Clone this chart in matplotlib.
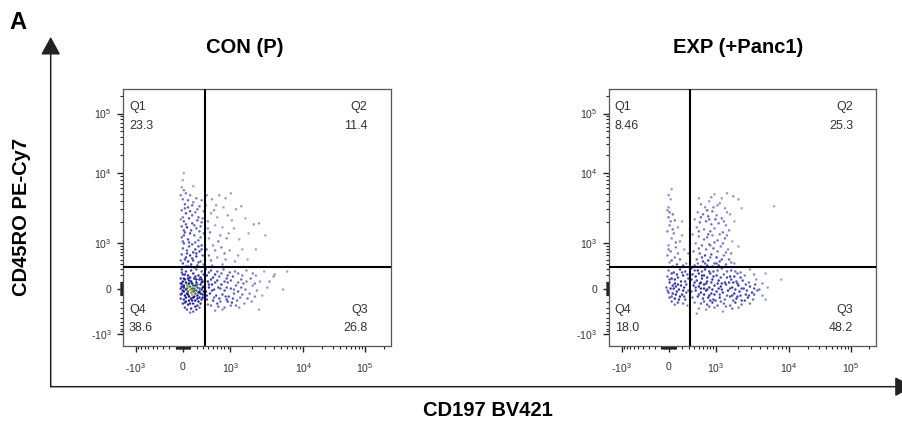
import numpy as np
import matplotlib
matplotlib.use('Agg')
import matplotlib.pyplot as plt
from matplotlib.colors import LinearSegmentedColormap
from matplotlib.patches import FancyArrowPatch

plt.rcParams['font.family'] = ['Liberation Sans', 'DejaVu Sans']
plt.rcParams['mathtext.fontset'] = 'custom'
plt.rcParams['mathtext.rm'] = 'Liberation Sans'
plt.rcParams['mathtext.it'] = 'Liberation Sans:italic'
plt.rcParams['mathtext.bf'] = 'Liberation Sans:bold'

# events in scaled display channels (0-256, biexponential)
con_q1 = [(58,172),(57,165),(67,159),(56,158),(60,152),(64,150),(57,146),(70,147),(75,145),(59,141),
          (62,138),(66,140),(73,139),(56,135),(60,132),(69,133),(77,134),(57,128),(63,127),(72,128),
          (58,124),(66,122),(75,123),(56,119),(61,118),(70,117),(74,119),(59,113),(64,112),(68,110),
          (77,112),(56,108),(62,106),(72,105),(58,102),(66,101),(75,100),(57,97),(61,95),(69,96),
          (73,94),(56,91),(64,90),(70,89),(76,90),(59,86),(62,84),(67,85),(74,84),(57,82),
          (65,81),(71,80),(77,81),(60,79),(68,78),(63,99),(71,125),(58,110),(66,130),(74,108),
          (60,88),(69,103),(55,150),(58,155),(62,145),(67,143),(71,136),(55,126),(60,121),(65,115),
          (73,114),(57,104),(63,103),(67,93),(72,99),(55,85),(61,92),(66,87),(75,96),(58,115),
          (62,79),(72,83),(76,127),(64,134),(59,137),(68,120),(70,92)]
con_q2 = [(80,150),(85,146),(92,150),(98,147),(103,152),(89,140),(96,138),(108,136),(113,139),(84,132),
          (90,128),(100,130),(117,127),(81,124),(88,120),(95,118),(106,117),(125,121),(130,122),(83,113),
          (93,110),(99,107),(111,106),(120,112),(86,100),(94,98),(102,95),(114,96),(82,90),(90,88),
          (98,86),(107,84),(119,86),(85,80),(95,81),(80,96),(82,107),(79,140),(81,117),(87,135),
          (104,125),(91,104),(97,92),(110,90),(84,85),(101,112),(88,95),(127,96),(136,110)]
con_q4 = [(56,76),(60,74),(65,75),(70,76),(75,74),(57,71),(62,70),(67,72),(72,70),(77,71),
          (55,67),(59,66),(63,65),(68,67),(73,66),(76,64),(56,62),(58,60),(61,61),(64,59),
          (66,62),(69,60),(71,58),(74,61),(77,59),(55,57),(57,55),(60,56),(62,54),(65,56),
          (67,54),(70,55),(72,53),(75,56),(77,54),(56,52),(59,50),(61,52),(63,49),(66,51),
          (68,49),(71,50),(73,48),(76,51),(55,47),(58,46),(60,44),(63,45),(65,47),(69,45),
          (72,44),(75,46),(57,42),(62,41),(67,42),(71,40),(74,42),(59,38),(65,37),(70,36),
          (64,33),(58,58),(68,57),(63,62),(60,48),(70,63),(66,45),(74,52),(57,64),(61,57),
          (69,52),(73,57),(62,67),(67,60),(65,53),(56,73),(59,71),(64,68),(69,69),(74,68),
          (55,62),(60,63),(65,64),(70,66),(75,63),(56,59),(62,59),(66,57),(71,61),(76,58),
          (58,54),(64,56),(68,55),(73,54),(55,51),(62,51),(67,48),(71,47),(76,48),(59,43),
          (64,42),(69,39),(73,38),(61,36),(67,34),(75,66),(58,67)]
con_q3 = [(79,76),(84,75),(90,74),(96,76),(102,73),(110,72),(118,75),(127,70),(135,74),(145,71),
          (157,74),(80,70),(86,68),(92,69),(99,67),(105,69),(113,66),(122,67),(131,64),(144,69),
          (81,64),(88,63),(94,61),(100,63),(108,60),(115,62),(124,60),(138,58),(153,56),(82,58),
          (87,56),(91,58),(97,55),(103,57),(110,54),(117,56),(121,52),(128,55),(83,52),(89,50),
          (95,51),(101,49),(106,52),(112,48),(119,47),(126,49),(133,50),(80,46),(86,45),(93,44),
          (99,46),(104,43),(109,45),(116,42),(123,44),(84,40),(91,39),(97,38),(103,40),(111,38),
          (130,36),(88,35),(79,54),(81,41),(85,61),(140,64),(82,73),(88,71),(94,72),(100,70),
          (107,74),(114,70),(124,72),(84,66),(90,65),(97,64),(103,65),(110,63),(118,64),(126,62),
          (85,55),(93,57),(99,58),(106,56),(113,58),(87,48),(92,47),(98,49),(105,47),(114,51),
          (90,42),(100,44),(108,40),(95,36),(82,61),(80,50)]

exp_q1 = [(60,156),(57,150),(59,146),(56,135),(58,133),(61,131),(57,128),(63,125),(70,124),(58,120),
          (66,118),(56,114),(62,112),(60,107),(68,104),(57,100),(64,98),(59,94),(72,96),(56,90),
          (63,88),(68,86),(58,83),(65,81),(74,82),(61,79),(76,92),(70,110),(57,138),(59,124),
          (61,116),(64,103),(57,96),(66,92),(60,85),(71,80)]
exp_q2 = [(101,151),(119,149),(108,147),(113,152),(124,146),(96,144),(88,141),(92,138),(104,140),(111,137),
          (99,134),(85,133),(90,131),(95,129),(103,130),(108,127),(116,131),(82,126),(87,123),(93,124),
          (98,121),(105,122),(112,120),(84,118),(91,116),(97,114),(101,117),(109,113),(115,115),(80,111),
          (86,109),(94,108),(99,110),(104,105),(111,107),(118,104),(83,102),(89,100),(96,101),(100,97),
          (107,99),(114,96),(81,94),(87,92),(92,90),(98,91),(103,88),(110,90),(117,92),(84,86),
          (90,84),(95,85),(101,82),(106,84),(112,81),(82,80),(88,79),(94,80),(99,79),(105,80),
          (120,82),(124,99),(158,139),(127,137),(120,124),(86,147),(97,100),(93,96),(98,148),(106,142),
          (94,135),(100,138),(113,133),(88,128),(96,126),(102,126),(110,124),(86,114),(95,111),(106,111),
          (113,110),(91,106),(101,103),(109,102),(86,97),(104,94),(112,93),(89,88),(97,88),(108,86),
          (115,86),(85,82),(103,82),(92,82),(117,83)]
exp_q4 = [(57,75),(62,73),(68,76),(73,74),(56,69),(60,67),(66,68),(71,70),(76,67),(58,63),
          (63,62),(69,64),(74,61),(55,58),(59,57),(64,59),(67,56),(72,58),(76,55),(57,53),
          (61,52),(65,54),(70,51),(74,53),(58,48),(63,47),(68,49),(73,46),(60,44),(66,43),
          (71,42),(75,40),(62,57),(69,60),(64,51),(60,72),(65,71),(70,73),(75,71),(58,66),
          (63,66),(73,64),(61,60),(66,61),(56,55),(71,55),(60,49),(67,46),(72,49),(63,41)]
exp_q3 = [(79,77),(85,75),(92,76),(100,74),(108,77),(117,75),(126,73),(135,76),(80,71),(86,72),
          (91,70),(97,72),(103,70),(110,71),(116,69),(123,72),(130,70),(139,71),(150,72),(165,66),
          (79,66),(84,65),(89,67),(94,64),(99,66),(105,65),(111,63),(117,66),(122,64),(128,65),
          (134,63),(141,66),(147,62),(81,60),(86,59),(91,61),(96,58),(101,60),(107,59),(112,61),
          (118,58),(124,60),(129,57),(135,59),(140,61),(144,56),(152,58),(79,54),(83,55),(88,53),
          (93,55),(98,52),(103,54),(109,53),(114,55),(120,52),(125,54),(131,51),(137,53),(142,55),
          (147,50),(80,48),(85,49),(90,47),(95,48),(100,46),(106,48),(111,46),(116,49),(122,47),
          (127,45),(133,48),(138,46),(150,46),(82,43),(88,42),(94,41),(99,43),(104,40),(110,42),
          (116,40),(121,43),(127,41),(135,42),(86,37),(93,36),(101,38),(109,34),(118,37),(84,32),
          (91,57),(104,62),(113,50),(97,45),(88,63),(119,63),(126,50),(108,56),(82,75),(89,74),
          (96,74),(104,75),(113,74),(121,74),(83,69),(89,70),(94,68),(100,69),(107,68),(113,68),
          (120,69),(126,68),(82,63),(87,62),(93,62),(98,63),(108,62),(115,63),(123,62),(131,61),
          (83,58),(88,57),(94,56),(99,56),(105,57),(116,57),(121,56),(127,57),(132,55),(139,57),
          (86,51),(91,51),(96,50),(101,51),(106,51),(118,50),(123,49),(134,50),(139,51),(91,44),
          (102,45),(107,44),(119,45),(130,45),(96,39),(112,39),(124,38)]

titles = ['CON (P)', 'EXP (+Panc1)']
quad_names = ['Q1', 'Q2', 'Q3', 'Q4']
con_pct = ['23.3', '11.4', '26.8', '38.6']
exp_pct = ['8.46', '25.3', '48.2', '18.0']
gate = 78
tick_pos = [12, 57, 102.5, 172.5, 231.5]
tick_labels = ['-$10^{3}$', '0', '$10^{3}$', '$10^{4}$', '$10^{5}$']


def minor_ticks():
    pos = []
    s = 45.5 / np.arcsinh(1000 / 400.0)
    for v in list(range(10, 100, 10)) + list(range(100, 1000, 100)):
        d = s * np.arcsinh(v / 400.0)
        pos += [57 + d, 57 - d]
    for k in range(2, 10):
        pos.append(102.5 + 70 * np.log10(k))
        pos.append(172.5 + 59 * np.log10(k))
    pos.append(231.5 + 59 * np.log10(2))
    return pos


# pseudocolour: pale lavender for isolated events, navy in the body, warm in the core
cmap = LinearSegmentedColormap.from_list(
    'pseudo', [(0, '#a4a4dc'), (0.35, '#3838b4'), (0.7, '#16168e'), (0.84, '#16168e'),
               (0.9, '#3a9a3a'), (0.95, '#e0c020'), (1.0, '#d84028')])


def density(pts):
    p = np.array(pts, dtype=float)
    d = np.sqrt(((p[:, None, :] - p[None, :, :]) ** 2).sum(-1))
    return (d < 7).sum(1) - 1


fig = plt.figure(figsize=(9.02, 4.24), dpi=100)

panels = [(con_q1 + con_q2 + con_q3 + con_q4, con_pct, 0.1367),
          (exp_q1 + exp_q2 + exp_q3 + exp_q4, exp_pct, 0.6752)]
dens = [density(p[0]) for p in panels]
dmax = max(d.max() for d in dens)

for i, (pts, pct, left) in enumerate(panels):
    ax = fig.add_axes([left, 0.1847, 0.2963, 0.6054])
    p = np.array(pts, dtype=float)
    ax.scatter(p[:, 0], p[:, 1], s=3.2, c=dens[i] / dmax, cmap=cmap, vmin=0, vmax=1,
               linewidths=0, zorder=2)
    ax.axvline(gate, color='black', lw=1.5, zorder=3)
    ax.axhline(gate, color='black', lw=1.5, zorder=3)
    ax.set_xlim(0, 256)
    ax.set_ylim(0, 256)
    for sp in ax.spines.values():
        sp.set_color('#555555')
        sp.set_linewidth(0.9)
    ax.set_xticks(tick_pos)
    ax.set_xticklabels(tick_labels)
    ax.set_yticks(tick_pos)
    ax.set_yticklabels(tick_labels)
    ax.set_xticks(minor_ticks(), minor=True)
    ax.set_yticks(minor_ticks(), minor=True)
    ax.tick_params(which='major', length=4.5, width=1.0, color='#222222',
                   labelsize=7.5, labelcolor='#333333')
    ax.tick_params(axis='x', which='major', pad=7)
    ax.tick_params(axis='y', which='major', pad=4)
    ax.tick_params(which='minor', length=2.5, width=0.8, color='#222222')

    kw = dict(transform=ax.transAxes, fontsize=9, color='#333333', va='center')
    ax.text(0.021, 0.929, quad_names[0], ha='left', **kw)
    ax.text(0.021, 0.856, pct[0], ha='left', **kw)
    ax.text(0.914, 0.929, quad_names[1], ha='right', **kw)
    ax.text(0.914, 0.856, pct[1], ha='right', **kw)
    ax.text(0.914, 0.139, quad_names[2], ha='right', **kw)
    ax.text(0.914, 0.068, pct[2], ha='right', **kw)
    ax.text(0.021, 0.139, quad_names[3], ha='left', **kw)
    ax.text(0.021, 0.068, pct[3], ha='left', **kw)

fig.text(0.2716, 0.8875, titles[0], ha='center', va='center', fontsize=14.5, fontweight='bold')
fig.text(0.8185, 0.8875, titles[1], ha='center', va='center', fontsize=14.5, fontweight='bold')
fig.text(0.0233, 0.489, 'CD45RO PE-Cy7', rotation=90, ha='center', va='center',
         fontsize=14.5, fontweight='bold')
fig.text(0.5405, 0.033, 'CD197 BV421', ha='center', va='center', fontsize=14.5, fontweight='bold')
fig.text(0.02, 0.948, 'A', ha='center', va='center', fontsize=17, fontweight='bold')

for start, end in [((0.0562, 0.088), (0.0562, 0.913)), ((0.0562, 0.088), (1.012, 0.088))]:
    fig.add_artist(FancyArrowPatch(start, end, transform=fig.transFigure,
                                   arrowstyle='-|>,head_length=11,head_width=6',
                                   mutation_scale=1, color='#222222', lw=1.1,
                                   shrinkA=0, shrinkB=0))

fig.savefig('out.png', dpi=100)
